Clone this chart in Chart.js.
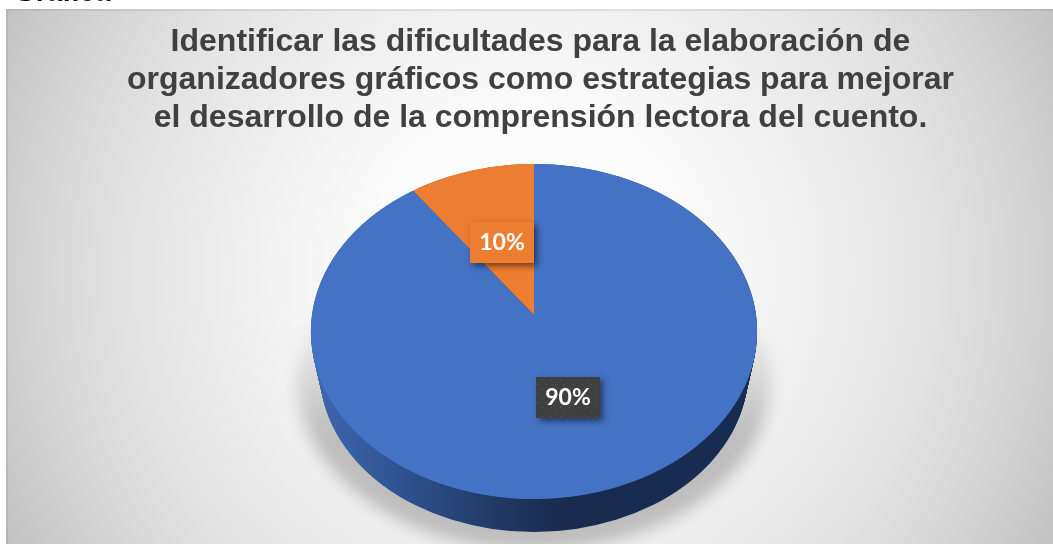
<!DOCTYPE html>
<html>
<head>
<meta charset="utf-8">
<script src="https://cdn.jsdelivr.net/npm/chart.js@4"></script>
<style>
html, body { margin: 0; padding: 0; background: #fff; overflow: hidden; }
#wrap { width: 1053px; height: 544px; position: relative; }
</style>
</head>
<body>
<div id="wrap"><canvas id="pie" width="1053" height="544"></canvas></div>
<script>
"use strict";

const titleLines = [
    'Identificar las dificultades para la elaboración de',
    'organizadores gráficos como estrategias para mejorar',
    'el desarrollo de la comprensión lectora del cuento.'
];
const sliceNames = ['Categoría 1', 'Categoría 2'];
const sliceValues = [90, 10];
const sliceColors = ['#4472C4', '#ED7D31'];

const tilt = { x: 534, y: 315, wide: 222, tall: 165.9, k: -0.0985 };
const side = { cy: 372, rx: 214, ry: 160 };
// small correction of each label box, in pixels
const labelNudge = [[-2, -1], [1, 2]];

// small dotted tile behind the 90% label
function dotPattern(ctx) {
    const tile = document.createElement('canvas');
    tile.width = 9;
    tile.height = 9;
    const t = tile.getContext('2d');
    t.fillStyle = '#404040';
    t.fillRect(0, 0, 9, 9);
    t.fillStyle = '#5c5c5c';
    t.fillRect(2, 2, 1, 1);
    t.fillRect(6, 6, 1, 1);
    return ctx.createPattern(tile, 'repeat');
}

// position on the screen of a point given relative to the pie centre
function project(px, py, r) {
    const s = 1 / (1 + tilt.k * py / r);
    return { x: tilt.x + tilt.wide * s * px / r, y: tilt.y + tilt.tall * s * py / r };
}

function drawBackdrop(chart) {
    const ctx = chart.ctx;
    ctx.save();
    ctx.fillStyle = '#000';
    ctx.font = 'bold 28px "Liberation Sans"';
    ctx.fillText('Gráfica', 14, 1);

    const g = ctx.createRadialGradient(530, 272, 0, 530, 272, 590);
    g.addColorStop(0, '#ffffff');
    g.addColorStop(0.25, '#fcfcfc');
    g.addColorStop(0.69, '#e3e3e3');
    g.addColorStop(1, '#c3c3c3');
    ctx.fillStyle = g;
    ctx.fillRect(6, 9, 1047, 535);
    // slightly darker edge along the top and the left of the box
    ctx.fillStyle = 'rgba(0,0,0,0.07)';
    ctx.fillRect(6, 9, 1047, 2);
    ctx.fillRect(6, 11, 2, 533);
    ctx.restore();
}

function drawGroundShadow(ctx, top) {
    ctx.save();
    ctx.filter = 'blur(8px)';
    const g = ctx.createLinearGradient(0, top + 150, 0, top + 270);
    g.addColorStop(0, 'rgba(0,0,0,0)');
    g.addColorStop(1, 'rgba(0,0,0,0.21)');
    ctx.fillStyle = g;
    ctx.beginPath();
    ctx.ellipse(tilt.x, side.cy + 10, side.rx + 22, side.ry + 8, 0, 0, Math.PI * 2);
    ctx.fill();
    ctx.restore();
}

function drawSideWall(ctx, top, bottom) {
    const cy = (top + bottom) / 2;
    const ry = (bottom - top) / 2;
    const rx = tilt.wide / Math.sqrt(1 - tilt.k * tilt.k);
    const g = ctx.createLinearGradient(tilt.x - rx, 0, tilt.x + rx, 0);
    g.addColorStop(0, '#3f69ae');
    g.addColorStop(0.2, '#2f5391');
    g.addColorStop(0.42, '#203964');
    g.addColorStop(0.55, '#192c50');
    g.addColorStop(1, '#182b50');
    ctx.save();
    ctx.fillStyle = g;
    for (let i = 0; i <= 40; i++) {
        const t = i / 40;
        ctx.beginPath();
        ctx.ellipse(tilt.x, cy + (side.cy - cy) * t, rx + (side.rx - rx) * t, ry + (side.ry - ry) * t, 0, 0, Math.PI * 2);
        ctx.fill();
    }
    ctx.restore();
}

// draws the arcs one pixel row at a time, each row with its own scale
function drawTiltedArcs(chart, arcs, top, bottom) {
    const ctx = chart.ctx;
    const c = arcs[0];
    const r = c.outerRadius;
    for (let row = Math.floor(top) - 1; row <= Math.ceil(bottom); row++) {
        const yp = row + 0.5 - tilt.y;
        const Y = yp / (tilt.tall - tilt.k * yp);
        const s = 1 / (1 + tilt.k * Y);
        const sx = tilt.wide * s / r;
        const sy = tilt.tall * s * s / r;
        ctx.save();
        ctx.beginPath();
        ctx.rect(0, row, 1053, 1);
        ctx.clip();
        ctx.setTransform(sx, 0, 0, sy, tilt.x - c.x * sx, row + 0.5 - (c.y + Y * r) * sy);
        arcs.forEach(a => a.draw(ctx));
        ctx.restore();
    }
}

function drawLabels(chart, arcs) {
    const ctx = chart.ctx;
    const total = sliceValues.reduce((a, b) => a + b, 0);
    arcs.forEach((a, i) => {
        const mid = a.getCenterPoint();
        const p = project(mid.x - a.x, mid.y - a.y, a.outerRadius);
        const bx = Math.round(p.x + labelNudge[i][0]);
        const by = Math.round(p.y + labelNudge[i][1]);
        ctx.save();
        ctx.shadowColor = 'rgba(0,0,0,0.5)';
        ctx.shadowOffsetX = 3;
        ctx.shadowOffsetY = 3;
        ctx.shadowBlur = 6;
        ctx.fillStyle = i === 0 ? dotPattern(ctx) : sliceColors[i];
        ctx.fillRect(bx - 32, by - 20, 64, 41);
        ctx.restore();
        ctx.save();
        ctx.fillStyle = '#fff';
        ctx.font = 'bold 23px Lato';
        ctx.textAlign = 'center';
        ctx.textBaseline = 'middle';
        ctx.fillText(Math.round(sliceValues[i] / total * 100) + '%', bx, by + 1);
        ctx.restore();
    });
}

const tiltedPie = {
    id: 'tiltedPie',
    beforeDraw: drawBackdrop,
    beforeDatasetsDraw(chart) {
        const arcs = chart.getDatasetMeta(0).data;
        const r = arcs[0].outerRadius;
        const top = project(0, -r, r).y;
        const bottom = project(0, r, r).y;
        drawGroundShadow(chart.ctx, top);
        drawSideWall(chart.ctx, top, bottom);
        drawTiltedArcs(chart, arcs, top, bottom);
        drawLabels(chart, arcs);
        return false;
    }
};

new Chart(document.querySelector('#pie'), {
    type: 'pie',
    data: {
        labels: sliceNames,
        datasets: [{
            data: sliceValues,
            backgroundColor: sliceColors,
            borderWidth: 0
        }]
    },
    options: {
        responsive: false,
        animation: false,
        // left padding moves the centred title to the right, the pie is placed by tilt
        layout: { padding: { top: 23, left: 28 } },
        plugins: {
            legend: { display: false },
            tooltip: { enabled: false },
            title: {
                display: true,
                text: titleLines,
                color: '#404040',
                font: { family: '"Liberation Sans"', size: 32, weight: 'bold', lineHeight: 1.19 },
                padding: { top: 0, bottom: 0 }
            }
        }
    },
    plugins: [tiltedPie]
});
</script>
</body>
</html>
